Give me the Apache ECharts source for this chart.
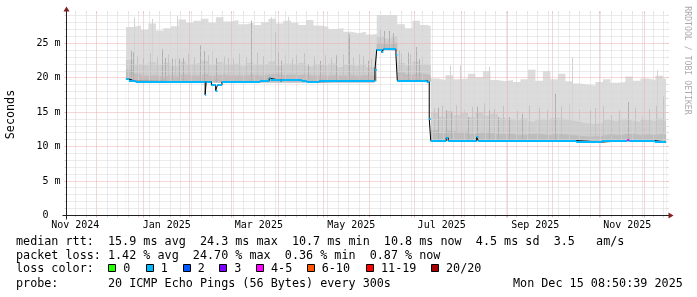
<!DOCTYPE html>
<html>
<head>
<meta charset="utf-8">
<script src="https://cdn.jsdelivr.net/npm/echarts@6.0.0/dist/echarts.min.js"></script>
<style>
html,body{margin:0;padding:0;background:#fff;}
#chart{width:697px;height:297px;}
</style>
</head>
<body>
<div id="chart"></div>
<script>
// ---------------- data (x = days since 1 Nov 2024) ----------------
const monthStartDays = [30, 61, 92, 120, 151, 181, 212, 242, 273, 304, 334, 365, 395];
const xLabelDays = [15.7, 76.7, 138.1, 199.7, 260, 322.4, 383.7];
const xLabels = ['Nov 2024', 'Jan 2025', 'Mar 2025', 'May 2025', 'Jul 2025', 'Sep 2025', 'Nov 2025'];
const yTickVals = [0, 5, 10, 15, 20, 25];
const yTickLabels = ['0  ', '5 m', '10 m', '15 m', '20 m', '25 m'];

const smokeDays = [49.5,54.5,59.5,64.5,69.5,74.5,79.5,84.5,89.5,94.5,99.5,104.5,109.5,114.5,119.5,124.5,129.5,134.5,139.5,144.5,149.5,154.5,159.5,164.5,169.5,174.5,179.5,184.5,189.5,194.5,199.5,204.5,209.5,214.5,216.7,221.5,226.5,230.4,235.5,240.5,245.5,250.5,252.7,257.5,262.5,267.5,272.5,277.5,282.5,287.5,292.5,297.5,302.5,307.5,312.5,317.5,322.5,327.5,332.5,337.5,342.5,347.5,352.5,357.5,362.5,367.5,372.5,377.5,382.5,387.5,392.5,397.5,402.5,407.5,409.6];
const smokeMax = [27.4,27.6,27.0,27.9,26.9,27.2,27.5,28.5,28.0,28.3, 28.6,28.0,28.8,28.2,28.4,27.8,28.0,27.7,28.1,28.6, 27.9,28.3,28.0,27.7,28.4,27.6,27.4,27.1,27.2,26.7, 26.5,26.7,26.3,26.4,29.15,29.15,29.15,27.8,27.2,28.3, 27.7,27.5,19.9,19.7,20.4,19.8,19.9,20.6,20.1,21.0, 19.7,19.5,19.7,19.4,19.8,21.2,19.6,21.0,19.8,20.6, 19.5,19.2,19.0,18.9,19.4,19.8,19.3,19.4,20.2,19.6, 19.9,19.7,20.3,19.9,19.9];
const smokeMid = [22.6,22.0,21.8,22.3,21.9,22.2,21.7,22.4,22.0,22.2, 22.5,21.9,22.3,22.0,22.1,21.8,22.2,21.9,22.0,22.4, 21.8,22.1,21.9,22.2,21.7,22.0,21.8,22.1,21.6,21.9, 21.7,22.0,21.6,21.5,26.0,25.7,26.1,22.2,21.8,22.4, 22.0,21.8,15.0,14.4,15.2,14.6,14.9,14.3,15.0,14.5, 14.8,14.2,14.0,13.8,14.1,13.7,14.0,13.9,14.2,14.0, 13.8,13.6,13.4,13.3,13.5,13.9,13.7,14.0,13.8,13.6, 13.9,13.7,14.1,13.8,13.8];
const smokeLow = [21.2,20.6,20.3,20.4,20.2,20.4,20.2,20.5,20.3,20.4, 20.6,20.3,20.5,20.3,20.4,20.3,20.5,20.3,20.5,20.6, 20.4,20.5,20.4,20.5,20.3,20.4,20.3,20.4,20.3,20.4, 20.3,20.4,20.3,20.4,25.0,24.9,25.1,20.8,20.5,20.7, 20.5,20.4,12.4,12.0,12.3,12.1,12.2,11.9,12.1,12.0, 11.9,11.8,11.9,11.7,11.8,11.9,11.8,11.7,11.9,11.8, 11.7,11.6,11.5,11.5,11.6,11.8,11.7,11.8,11.9,11.7, 11.8,11.7,11.9,11.7,11.7];
const smokeMin = [19.7,19.35,19.3,19.3,19.3,19.3,19.3,19.3,19.3,19.3, 19.3,19.3,19.3,19.3,19.3,19.3,19.3,19.3,19.3,19.3, 19.3,19.3,19.3,19.3,19.3,19.3,19.3,19.3,19.3,19.3, 19.3,19.3,19.3,19.5,24.0,24.0,23.9,19.5,19.5,19.5, 19.5,19.4,10.8,10.8,10.8,10.8,10.8,10.8,10.8,10.8, 10.8,10.8,10.8,10.8,10.8,10.8,10.8,10.8,10.8,10.8, 10.8,10.6,10.6,10.6,10.6,10.8,10.8,10.8,10.8,10.8, 10.8,10.8,10.6,10.6,10.6];

const lightSpikeDays = [55.5, 66.9, 84.2, 146.3, 158.2, 265.7, 272.3, 292.2, 347.5, 404.2];
const lightSpikeTops = [28.8, 28.6, 29.0, 28.8, 28.9, 21.8, 21.8, 21.6, 23.0, 21.1];
const midSpikeDays = [57.1,61.0,66.0,70.3,78.2,82.6,91.5,95.1,104.8,107.5,115.3,118.0,125.5,129.9,137.0,141.4,156.0,160.6,168.4,175.0,182.3,186.5,194.3,201.0,208.2,213.0,232.0,239.5,247.5,255.0,260.4,270.0,275.1,280.6,288.4,295.0,301.2,310.6,318.4,325.0,330.5,340.2,345.0,352.1,362.5,368.0,378.6,389.0,398.5,403.0];
const midSpikeTops = [23.2,22.9,23.6,23.1,23.4,22.8,23.5,23.0,23.3,23.8,23.1,22.9,23.5,23.0,23.7,23.2,23.4,22.8,23.6,23.1,23.3,22.9,23.4,23.0,23.2,22.8,24.0,23.4,23.1,15.6,15.9,16.1,15.4,15.8,16.3,15.5,15.9,15.2,16.0,15.7,15.3,15.8,16.2,15.4,15.6,15.9,15.3,15.7,15.5,16.0];
const darkSpikeDays = [52.9,54.4,73.7,76.0,80.4,84.9,87.7,98.9,101.7,110.2,121.1,133.3,148.9,151.1,153.3,163.3,171.1,178.9,189.9,197.9,198.6,205.5,211.1,218.9,222.2,225.5,227.7,233.3,237.7,243.3,245.5,257.7,263.3,266.7,277.7,283.7,291.7,297.7,305.1,314.0,336.0,358.9,373.3,384.4,394.0,408.2];
const darkSpikeTops = [24.0,23.7,24.2,22.9,22.8,22.8,22.9,24.7,23.9,22.9,22.8,28.3,26.6,23.7,22.5,23.3,22.0,22.5,23.3,26.6,26.3,23.4,22.5,27.1,26.8,26.8,26.5,23.5,23.7,24.5,22.7,15.7,15.3,15.0,14.3,15.8,15.3,14.3,14.3,14.8,17.7,15.3,14.6,16.5,14.3,17.3];

const medDays = [49.5,51.5,54.5,56.0,102.3,103.0,106.5,109.3,110.5,113.5,138.9,145.0,146.0,152.2,153.3,166.7,170.0,178.3,191.0,191.7,215.5,216.7,220.2,221.1,229.5,230.4,250.0,251.7,252.7,263.0,264.4,283.3,284.4,349.7,366.7,383.7,385.0,402.0,409.6];
const medVals = [19.85,19.6,19.5,19.45,17.55,19.45,18.95,18.15,18.95,19.45,19.6,19.96,19.67,19.5,19.65,19.48,19.45,19.48,19.55,19.6,21.15,24.12,23.7,24.13,23.35,19.6,19.45,14.05,10.88,11.3,10.88,11.4,10.88,10.68,10.88,11.0,10.88,10.68,10.68];
const medLoss = [1,1,1,1,1,1,1,1,1,1,1,1,1,1,1,1,1,1,1,1,1,1,1,1,1,1,1,1,1,1,1,1,1,1,1,5,1,1,1];

const lossLabels = ['0', '1', '2', '3', '4-5', '6-10', '11-19', '20/20'];
const lossColors = ['#26ff00', '#00b8ff', '#0059ff', '#7e00ff', '#ff00ff', '#ff5500', '#ff0000', '#a10000'];
const lossBoxX = [108.3, 145.7, 182.7, 219.3, 256, 306.7, 366, 431];

// ---------------- chart ----------------
const FONT = 'DejaVu Sans Mono';
const X_MIN = 9.87, X_MAX = 409.87, Y_MAX = 29.36;
const MINOR_GRID = '#d6d6d6', MAJOR_GRID = '#eaaeae';

function lossIndex(n) { if (n <= 3) return n; if (n <= 5) return 4; if (n <= 10) return 5; if (n <= 19) return 6; return 7; }
const pairs = (xs, ys) => xs.map((x, i) => [x, ys[i]]);

function areaSeries(ys, color, z) {
  return { type: 'line', data: pairs(smokeDays, ys), step: 'end', symbol: 'none', showSymbol: false,
    lineStyle: { width: 0, opacity: 0 }, areaStyle: { color: color, opacity: 1 }, silent: true, z: z };
}
function spikeSeries(days, tops, color, w, z) {
  return { type: 'custom', data: pairs(days, tops), silent: true, z: z,
    renderItem: function (params, api) {
      const p = api.coord([api.value(0), api.value(1)]);
      const b = api.coord([api.value(0), 0]);
      const x = Math.round(p[0] - 0.5);
      return { type: 'rect', shape: { x: x, y: p[1], width: w, height: b[1] - p[1] }, style: { fill: color } };
    } };
}

const gridData = [];
for (let d = 2; d <= X_MAX; d += 7) {
  if (d > X_MIN + 0.7 && !monthStartDays.some(m => Math.abs(m - d) < 0.7)) gridData.push([d, 0, 0]);
}
monthStartDays.forEach(d => gridData.push([d, 0, 1]));
for (let v = 1; v < Y_MAX; v++) gridData.push([X_MIN, v, v % 5 === 0 ? 3 : 2]);

function gridRender(params, api) {
  const kind = api.value(2);
  const col = (kind === 1 || kind === 3) ? MAJOR_GRID : MINOR_GRID;
  if (kind <= 1) {
    const p = api.coord([api.value(0), 0]);
    const q = api.coord([api.value(0), Y_MAX]);
    const x = Math.round(p[0] - 0.5) + 0.5;
    return { type: 'group', children: [
      { type: 'line', shape: { x1: x, y1: p[1], x2: x, y2: q[1] }, style: { stroke: col, lineWidth: 1, lineDash: [1, 1] } },
      { type: 'line', shape: { x1: x, y1: p[1], x2: x, y2: p[1] + 2 }, style: { stroke: col, lineWidth: 1 } },
      { type: 'line', shape: { x1: x, y1: q[1] - 2, x2: x, y2: q[1] }, style: { stroke: col, lineWidth: 1 } }
    ] };
  }
  const p = api.coord([X_MIN, api.value(1)]);
  const q = api.coord([X_MAX, api.value(1)]);
  const y = Math.round(p[1] - 0.5) + 0.5;
  return { type: 'group', children: [
    { type: 'line', shape: { x1: p[0], y1: y, x2: q[0], y2: y }, style: { stroke: col, lineWidth: 1, lineDash: [1, 1] } },
    { type: 'line', shape: { x1: p[0] - 2, y1: y, x2: p[0], y2: y }, style: { stroke: col, lineWidth: 1 } },
    { type: 'line', shape: { x1: q[0], y1: y, x2: q[0] + 2, y2: y }, style: { stroke: col, lineWidth: 1 } }
  ] };
}

const medSegs = medDays.slice(0, -1).map((d, i) => [d, medVals[i], medDays[i + 1], medLoss[i]]);

const legendLines = [
  { y: 241.5, text: 'median rtt:  15.9 ms avg  24.3 ms max  10.7 ms min  10.8 ms now  4.5 ms sd  3.5   am/s' },
  { y: 255.5, text: 'packet loss: 1.42 % avg  24.70 % max  0.36 % min  0.87 % now' },
  { y: 269, text: 'loss color:' },
  { y: 283.5, text: 'probe:       20 ICMP Echo Pings (56 Bytes) every 300s' }
];

const graphics = [];
legendLines.forEach(l => graphics.push({ type: 'text', x: 16, y: l.y,
  style: { text: l.text, fontFamily: FONT, fontSize: 11.75, fill: '#000', textAlign: 'left', textVerticalAlign: 'middle' } }));
graphics.push({ type: 'text', x: 513, y: 283.5,
  style: { text: 'Mon Dec 15 08:50:39 2025', fontFamily: FONT, fontSize: 11.75, fill: '#000', textAlign: 'left', textVerticalAlign: 'middle' } });
lossLabels.forEach((lab, i) => {
  const bx = Math.round(lossBoxX[i]);
  graphics.push({ type: 'rect', shape: { x: bx + 0.5, y: 264.5, width: 7, height: 7 }, style: { fill: lossColors[i], stroke: '#000', lineWidth: 1 } });
  graphics.push({ type: 'text', x: lossBoxX[i] + 15, y: 269,
    style: { text: lab, fontFamily: FONT, fontSize: 11.75, fill: '#000', textAlign: 'left', textVerticalAlign: 'middle' } });
});
// axes lines and arrows
graphics.push({ type: 'line', shape: { x1: 62.5, y1: 215.5, x2: 670.5, y2: 215.5 }, style: { stroke: '#1f1f1f', lineWidth: 1 }, z: 50 });
graphics.push({ type: 'line', shape: { x1: 66.5, y1: 219.5, x2: 66.5, y2: 9.5 }, style: { stroke: '#1f1f1f', lineWidth: 1 }, z: 50 });
graphics.push({ type: 'polygon', shape: { points: [[668.5, 212.5], [668.5, 218.5], [673.5, 215.5]] }, style: { fill: '#801f1f' }, z: 51 });
graphics.push({ type: 'polygon', shape: { points: [[63.5, 11.5], [69.5, 11.5], [66.5, 6.5]] }, style: { fill: '#801f1f' }, z: 51 });
graphics.push({ type: 'text', x: 687.5, y: 60.5, rotation: -Math.PI / 2,
  style: { text: 'RRDTOOL / TOBI OETIKER', fontFamily: FONT, fontSize: 8.2, fill: '#ababab', textAlign: 'center', textVerticalAlign: 'middle' } });

const chart = echarts.init(document.getElementById('chart'), null, { renderer: 'canvas', devicePixelRatio: 1 });
chart.setOption({
  animation: false,
  backgroundColor: '#ffffff',
  grid: { left: 66.5, top: 13.5, width: 600, height: 202, containLabel: false, outerBoundsMode: 'none' },
  xAxis: {
    type: 'value', min: X_MIN, max: X_MAX,
    axisLine: { show: false }, axisTick: { show: false }, splitLine: { show: false },
    axisLabel: {
      customValues: xLabelDays, margin: 5, fontFamily: FONT, fontSize: 10, color: '#000',
      formatter: function (v) {
        let best = 0;
        xLabelDays.forEach((d, i) => { if (Math.abs(d - v) < Math.abs(xLabelDays[best] - v)) best = i; });
        return xLabels[best];
      }
    }
  },
  yAxis: {
    type: 'value', min: 0, max: Y_MAX, interval: 5,
    axisLine: { show: false }, axisTick: { show: false }, splitLine: { show: false },
    axisLabel: {
      margin: 6, fontFamily: FONT, fontSize: 10, color: '#000',
      formatter: function (v) { const i = yTickVals.indexOf(v); return i >= 0 ? yTickLabels[i] : ''; }
    },
    name: 'Seconds', nameLocation: 'middle', nameGap: 50, nameRotate: 90,
    nameTextStyle: { fontFamily: FONT, fontSize: 11.75, color: '#000' }
  },
  series: [
    areaSeries(smokeMax, '#dcdcdc', 2),
    spikeSeries(lightSpikeDays, lightSpikeTops, '#d3d3d3', 1, 3),
    areaSeries(smokeMid, '#cdcdcd', 4),
    spikeSeries(midSpikeDays, midSpikeTops, '#c3c3c3', 1, 5),
    areaSeries(smokeLow, '#bdbdbd', 6),
    spikeSeries(darkSpikeDays, darkSpikeTops, '#afafaf', 1, 7),
    areaSeries(smokeMin, '#ffffff', 8),
    { type: 'custom', data: gridData, renderItem: gridRender, silent: true, z: 9 },
    { type: 'line', data: pairs(medDays, medVals), step: 'end', symbol: 'none', showSymbol: false,
      lineStyle: { color: '#000', width: 1 }, silent: true, z: 10 },
    { type: 'custom', data: medSegs, silent: true, z: 11,
      renderItem: function (params, api) {
        const v = api.value(1);
        const a = api.coord([api.value(0), v]);
        const b = api.coord([api.value(2), v]);
        const y = Math.round(a[1]);
        return { type: 'line', shape: { x1: a[0], y1: y, x2: b[0], y2: y },
          style: { stroke: lossColors[lossIndex(api.value(3))], lineWidth: 2 } };
      } }
  ],
  graphic: graphics
});
</script>
</body>
</html>
